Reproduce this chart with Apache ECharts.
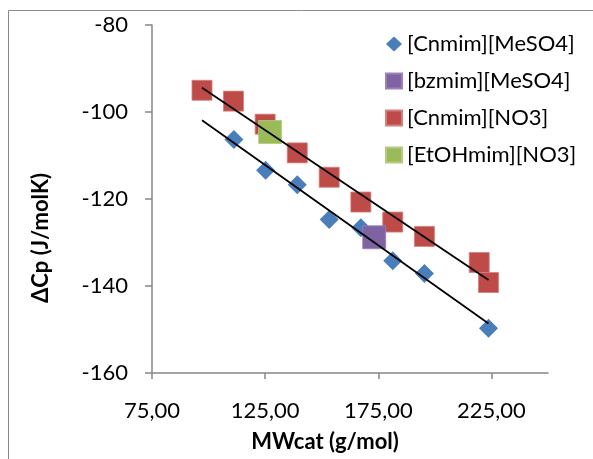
<!DOCTYPE html>
<html>
<head>
<meta charset="utf-8">
<title>ΔCp vs MWcat</title>
<script src="https://cdn.jsdelivr.net/npm/echarts@6/dist/echarts.min.js"></script>
<style>
  html, body { margin: 0; padding: 0; background: #ffffff; }
  #chart { width: 593px; height: 459px; }
</style>
</head>
<body>
<div id="chart"></div>
<script>
// Cation molar mass (g/mol) and heat-capacity change (J/molK) per ionic-liquid family
const cnmimMeSO4X = [111.2, 125.2, 139.2, 153.3, 167.3, 181.4, 195.4, 223.7];
const cnmimMeSO4Y = [-106.3, -113.4, -116.7, -124.7, -126.6, -134.2, -137.1, -149.7];

const bzmimMeSO4X = [173.2];
const bzmimMeSO4Y = [-128.8];

const cnmimNO3X = [97.1, 111.0, 125.0, 139.2, 153.3, 167.3, 181.4, 195.4, 219.6, 223.7];
const cnmimNO3Y = [-95.0, -97.5, -102.8, -109.4, -115.0, -120.7, -125.3, -128.6, -134.6, -139.2];

const etohmimNO3X = [127.2];
const etohmimNO3Y = [-104.6];

// Linear trend lines (end points)
const trendNO3X = [97.1, 223.7];
const trendNO3Y = [-94.4, -138.6];
const trendMeSO4X = [97.1, 223.7];
const trendMeSO4Y = [-101.9, -148.6];

// Axis ticks
const xTicks = [75, 125, 175, 225];
const yTicks = [-160, -140, -120, -100, -80];

const seriesNames = ['[Cnmim][MeSO4]', '[bzmim][MeSO4]', '[Cnmim][NO3]', '[EtOHmim][NO3]'];

const zip = (xs, ys) => xs.map((x, i) => [x, ys[i]]);

const FONT = 'Lato, "Open Sans", sans-serif';
const AXIS_GRAY = '#868686';

const chart = echarts.init(document.getElementById('chart'), null, { renderer: 'canvas' });

chart.setOption({
  backgroundColor: '#ffffff',
  animation: false,
  textStyle: { fontFamily: FONT },
  graphic: [{
    type: 'rect',
    shape: { x: 8.5, y: 10.5, width: 620, height: 480 },
    style: { fill: 'none', stroke: '#8a8a8a', lineWidth: 1 },
    silent: true,
    z: -10
  }],
  grid: { left: 152, right: 45, top: 25, bottom: 86, containLabel: false },
  legend: {
    orient: 'vertical',
    left: 380,
    top: 28,
    itemWidth: 16,
    itemHeight: 15,
    itemGap: 15,
    textStyle: { fontFamily: FONT, fontSize: 22, color: '#000000' },
    data: [
      { name: seriesNames[0], icon: 'diamond' },
      { name: seriesNames[1], icon: 'rect' },
      { name: seriesNames[2], icon: 'rect' },
      { name: seriesNames[3], icon: 'rect' }
    ]
  },
  xAxis: {
    type: 'value',
    min: 75,
    max: 250,
    name: 'MWcat (g/mol)',
    nameLocation: 'middle',
    nameGap: 58,
    nameTextStyle: { fontFamily: FONT, fontSize: 22, fontWeight: 'bold', color: '#000000', padding: [0, 50, 0, 0] },
    axisLine: { show: true, onZero: false, lineStyle: { color: AXIS_GRAY, width: 1.5 } },
    axisTick: { show: true, length: 6, customValues: xTicks, lineStyle: { color: AXIS_GRAY, width: 1.5 } },
    axisLabel: {
      customValues: xTicks,
      margin: 27,
      fontFamily: FONT, fontSize: 22, color: '#000000',
      formatter: v => v.toFixed(2).replace('.', ',')
    },
    splitLine: { show: false }
  },
  yAxis: {
    type: 'value',
    min: -160,
    max: -80,
    interval: 20,
    name: 'ΔCp (J/molK)',
    nameLocation: 'middle',
    nameGap: 100,
    nameTextStyle: { fontFamily: FONT, fontSize: 22, fontWeight: 'bold', color: '#000000', padding: [0, 78, 0, 0] },
    axisLine: { show: true, onZero: false, lineStyle: { color: AXIS_GRAY, width: 1.5 } },
    axisTick: { show: true, length: 7, customValues: yTicks, lineStyle: { color: AXIS_GRAY, width: 1.5 } },
    axisLabel: {
      customValues: yTicks,
      margin: 24,
      fontFamily: FONT, fontSize: 22, color: '#000000'
    },
    splitLine: { show: false }
  },
  series: [
    {
      name: seriesNames[0], type: 'scatter', symbol: 'diamond', symbolSize: 19,
      itemStyle: { color: '#4A7EBB', opacity: 1 },
      data: zip(cnmimMeSO4X, cnmimMeSO4Y), z: 2
    },
    {
      name: seriesNames[1], type: 'scatter', symbol: 'rect', symbolSize: 23,
      itemStyle: { color: '#7E62A1', borderColor: '#9a83b6', borderWidth: 0.8, opacity: 1 },
      data: zip(bzmimMeSO4X, bzmimMeSO4Y), z: 3
    },
    {
      name: seriesNames[2], type: 'scatter', symbol: 'rect', symbolSize: 20,
      itemStyle: { color: '#BE4B48', borderColor: '#d27f7d', borderWidth: 0.8, opacity: 1 },
      data: zip(cnmimNO3X, cnmimNO3Y), z: 2
    },
    {
      name: seriesNames[3], type: 'scatter', symbol: 'rect', symbolSize: 23,
      itemStyle: { color: '#9BBB59', borderColor: '#b3cb81', borderWidth: 0.8, opacity: 1 },
      data: zip(etohmimNO3X, etohmimNO3Y), z: 3
    },
    {
      name: 'trend NO3', type: 'line', showSymbol: false, symbol: 'none',
      lineStyle: { color: '#000000', width: 1.8 },
      data: zip(trendNO3X, trendNO3Y), z: 5, silent: true
    },
    {
      name: 'trend MeSO4', type: 'line', showSymbol: false, symbol: 'none',
      lineStyle: { color: '#000000', width: 1.8 },
      data: zip(trendMeSO4X, trendMeSO4Y), z: 5, silent: true
    }
  ]
});
</script>
</body>
</html>
